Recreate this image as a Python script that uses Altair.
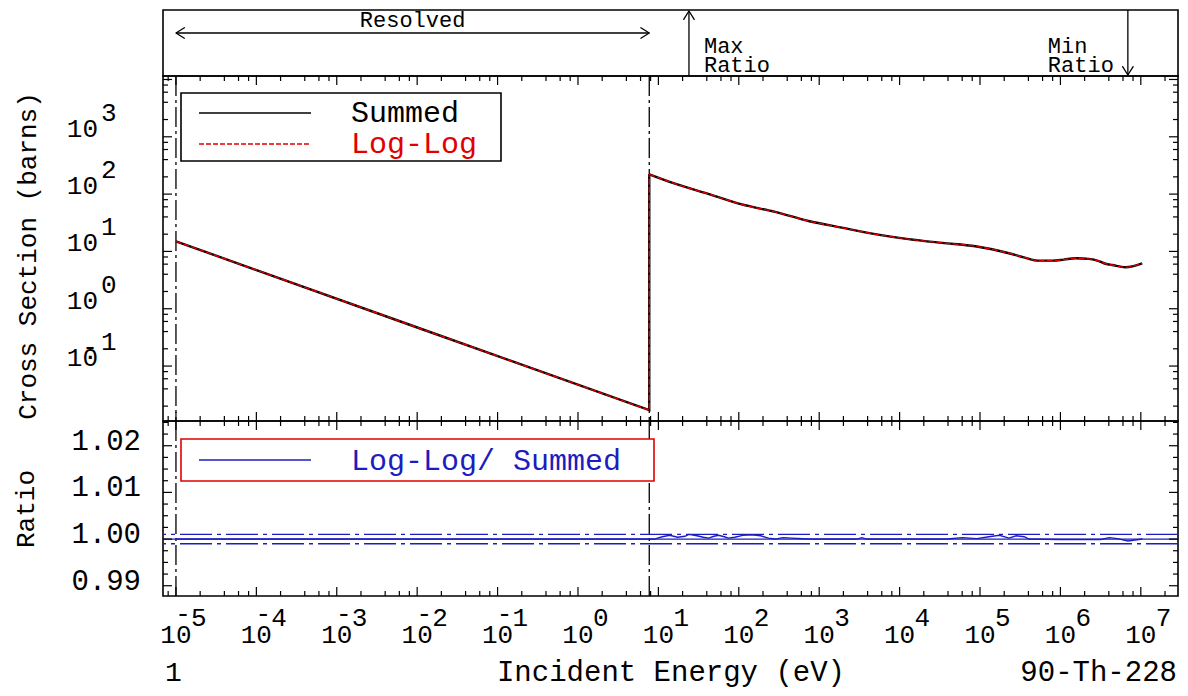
import altair as alt
import pandas as pd

FONT = "Liberation Mono"

# ---------------- data ----------------
# resolved region (1/v behaviour), ending with the jump at the boundary
res_energy = [1e-5, 0.0089, 7.7, 7.7]
res_xs = [15.0, 0.50, 0.017, 222]
# unresolved / fast region
fast_energy = [7.7, 16.1, 41.8, 109, 283, 736, 1910, 4970, 12900, 33700, 87500,
               141000, 228000, 350000, 538000, 800000, 1100000, 1540000, 2260000,
               3000000, 3640000, 4410000, 6460000, 10400000]
fast_xs = [222, 152, 101, 66, 49, 34, 26, 20, 16.4, 14.1, 12.3,
           10.9, 9.3, 7.9, 6.9, 6.9, 7.2, 7.6, 7.4, 6.8, 6.1, 5.8, 5.3, 6.2]

# ratio Log-Log / Summed
ratio_energy = [1e-5, 7.7, 8.9, 11.2, 13.8, 17.4, 21.4, 24, 30.2, 36.3, 42.2, 49.0,
                56.2, 66.1, 74.1, 89.1, 112, 145, 186, 234, 282, 355, 457, 741,
                1585, 2951, 3388, 3890, 15850, 38900, 60260, 91200, 128800,
                173800, 229100, 281800, 354800, 407400, 1000000, 3160000,
                4070000, 5130000, 6900000, 10500000]
ratio_values = [1.0, 1.0, 1.0, 1.0005, 1.0008, 1.0004, 1.0006, 1.0010, 1.0007, 1.0004,
                1.0002, 1.0006, 1.0008, 1.0005, 1.0002, 1.0004, 1.0008, 1.0009,
                1.0007, 1.0002, 1.0000, 1.0003, 1.0002, 1.0000, 1.0, 1.0, 1.0003,
                1.0, 1.0, 1.0, 1.0003, 1.0001, 1.0005, 1.0008, 1.0002, 1.0007,
                1.0005, 1.0000, 0.9999, 0.9999, 1.0003, 1.0001, 0.9996, 1.0]

guide_ratios = [1.001, 0.999]
unity_ratio = [1.0]
boundary_energy = [1e-5, 7.7]
resolved_lo, resolved_hi = 1e-5, 7.7
max_ratio_energy = 24
min_ratio_energy = 6.9e6

x_exponents = list(range(-5, 8))
y_exponents = [-1, 0, 1, 2, 3]
minor_mult = [2, 4, 6, 8]
ratio_major = [0.99, 1.00, 1.01, 1.02]
ratio_labels = ["0.99", "1.00", "1.01", "1.02"]
ratio_minor = [0.9925, 0.995, 0.9975, 1.0025, 1.005, 1.0075, 1.0125, 1.015,
               1.0175, 1.0225, 1.025]

X_DOMAIN = [6.9e-6, 2.9e7]
Y_DOMAIN = [0.011, 11500]
R_DOMAIN = [0.9878, 1.0253]

W, HT, HM, HR = 1015, 66, 345, 175
BLUE = "#1c1cc0"
RED = "#e00000"
TICKFS = 26
BIGFS = 30

xscale = alt.Scale(type="log", domain=X_DOMAIN, nice=False)
yscale = alt.Scale(type="log", domain=Y_DOMAIN, nice=False)
rscale = alt.Scale(domain=R_DOMAIN, nice=False, zero=False)


def X(f):
    return alt.X(f, type="quantitative", scale=xscale, axis=None)


def YL(f):
    return alt.Y(f, type="quantitative", scale=yscale, axis=None)


def YR(f):
    return alt.Y(f, type="quantitative", scale=rscale, axis=None)


one = pd.DataFrame({"a": [0]})

# tick value lists
x_major = [10.0 ** e for e in range(-6, 9)]
x_minor = [m * 10.0 ** e for e in range(-6, 8) for m in minor_mult]
x_major = [v for v in x_major if X_DOMAIN[0] <= v <= X_DOMAIN[1]]
x_minor = [v for v in x_minor if X_DOMAIN[0] <= v <= X_DOMAIN[1]]
y_major = [10.0 ** e for e in range(-2, 5)]
y_minor = [m * 10.0 ** e for e in range(-2, 5) for m in minor_mult]
y_major = [v for v in y_major if Y_DOMAIN[0] <= v <= Y_DOMAIN[1]]
y_minor = [v for v in y_minor if Y_DOMAIN[0] <= v <= Y_DOMAIN[1]]

MAJ, MIN = 9, 5


def x_ticks(h):
    out = []
    for vals, L in ((x_major, MAJ), (x_minor, MIN)):
        c = alt.Chart(pd.DataFrame({"E": vals})).mark_rule(color="black", strokeWidth=1.2)
        out.append(c.encode(x=X("E"), y=alt.value(h), y2=alt.value(h - L)))
        out.append(c.encode(x=X("E"), y=alt.value(0), y2=alt.value(L)))
    return out


def y_ticks(majors, minors, Yf):
    out = []
    for vals, L in ((majors, MAJ), (minors, MIN)):
        c = alt.Chart(pd.DataFrame({"v": vals})).mark_rule(color="black", strokeWidth=1.2)
        out.append(c.encode(y=Yf("v"), x=alt.value(0), x2=alt.value(L)))
        out.append(c.encode(y=Yf("v"), x=alt.value(W), x2=alt.value(W - L)))
    return out


def head(chart, shape, field, y):
    return chart.mark_point(shape=shape, size=110, filled=False, color="black",
                            strokeWidth=1.3, opacity=1, strokeJoin="round",
                            strokeCap="round").encode(x=X(field), y=alt.value(y))


# ---------------- top strip ----------------
rng = alt.Chart(pd.DataFrame({"lo": [resolved_lo], "hi": [resolved_hi]}))
top_layers = [
    rng.mark_rule(color="black", strokeWidth=1.3).encode(x=X("lo"), x2=alt.X2("hi"), y=alt.value(23)),
    head(rng, "M1.6,-1L0,0L1.6,1", "lo", 23),
    head(rng, "M-1.6,-1L0,0L-1.6,1", "hi", 23),
    rng.transform_calculate(mid="sqrt(datum.lo*datum.hi)").mark_text(
        text="Resolved", font=FONT, fontSize=22, baseline="alphabetic").encode(x=X("mid"), y=alt.value(17)),
]
mx = alt.Chart(pd.DataFrame({"E": [max_ratio_energy]}))
mn = alt.Chart(pd.DataFrame({"E": [min_ratio_energy]}))
top_layers += [
    mx.mark_rule(color="black", strokeWidth=1.3).encode(x=X("E"), y=alt.value(1), y2=alt.value(HT)),
    head(mx, "M-1,1.6L0,0L1,1.6", "E", 1),
    mx.mark_text(text="Max", font=FONT, fontSize=22, align="left", dx=15, baseline="alphabetic").encode(x=X("E"), y=alt.value(43)),
    mx.mark_text(text="Ratio", font=FONT, fontSize=22, align="left", dx=15, baseline="alphabetic").encode(x=X("E"), y=alt.value(62)),
    mn.mark_rule(color="black", strokeWidth=1.3).encode(x=X("E"), y=alt.value(0), y2=alt.value(HT - 1)),
    head(mn, "M-1,-1.6L0,0L1,-1.6", "E", HT - 1),
    mn.mark_text(text="Min", font=FONT, fontSize=22, align="left", dx=-80, baseline="alphabetic").encode(x=X("E"), y=alt.value(43)),
    mn.mark_text(text="Ratio", font=FONT, fontSize=22, align="left", dx=-80, baseline="alphabetic").encode(x=X("E"), y=alt.value(62)),
]
top = alt.layer(*top_layers).properties(width=W, height=HT)

# ---------------- cross-section panel ----------------
res_df = pd.DataFrame({"E": res_energy, "xs": res_xs, "idx": list(range(len(res_energy)))})
fast_df = pd.DataFrame({"E": fast_energy, "xs": fast_xs, "idx": list(range(len(fast_energy)))})
bnd = alt.Chart(pd.DataFrame({"E": boundary_energy}))
ylab = pd.DataFrame({"v": [10.0 ** e for e in y_exponents],
                     "exp": [str(abs(e)) for e in y_exponents],
                     "neg": [e < 0 for e in y_exponents]})
yl = alt.Chart(ylab)
oc = alt.Chart(one)


def curve_layers(df, interp):
    c = alt.Chart(df)
    return [
        c.mark_line(color="black", strokeWidth=2.4, clip=True, interpolate=interp).encode(
            x=X("E"), y=YL("xs"), order="idx:Q"),
        c.mark_line(color=RED, strokeWidth=1.4, strokeDash=[6, 2], clip=True, interpolate=interp).encode(
            x=X("E"), y=YL("xs"), order="idx:Q"),
    ]


mid_layers = [
    bnd.mark_rule(color="black", strokeWidth=1.3, strokeDash=[20, 4, 3, 4]).encode(x=X("E")),
]
mid_layers += curve_layers(res_df, "linear") + curve_layers(fast_df, "monotone")
mid_layers += [
    # legend
    oc.mark_rect(fill="white", stroke="black", strokeWidth=1.6).encode(
        x=alt.value(18), x2=alt.value(338), y=alt.value(17), y2=alt.value(85)),
    oc.mark_rule(color="black", strokeWidth=1.3).encode(x=alt.value(36), x2=alt.value(148), y=alt.value(37)),
    oc.mark_rule(color=RED, strokeWidth=1.3, strokeDash=[5, 2]).encode(x=alt.value(36), x2=alt.value(148), y=alt.value(68)),
    oc.mark_text(text="Summed", font=FONT, fontSize=BIGFS, align="left", baseline="alphabetic", color="black").encode(
        x=alt.value(188), y=alt.value(46)),
    oc.mark_text(text="Log-Log", font=FONT, fontSize=BIGFS, align="left", baseline="alphabetic", color=RED).encode(
        x=alt.value(188), y=alt.value(77)),
    # y labels 10^n
    yl.mark_text(text="10", font=FONT, fontSize=TICKFS, align="right", baseline="alphabetic").encode(
        x=alt.value(-65), y=YL("v")),
    yl.mark_text(font=FONT, fontSize=TICKFS, align="left", baseline="alphabetic", dy=-16).encode(
        x=alt.value(-62), y=YL("v"), text="exp:N"),
    yl.transform_filter("datum.neg").mark_text(text="-", font=FONT, fontSize=TICKFS, align="center",
                                                baseline="alphabetic", dy=-11).encode(x=alt.value(-73), y=YL("v")),
    oc.mark_text(text="Cross Section (barns)", font=FONT, fontSize=26, angle=270, align="center",
                 baseline="middle").encode(x=alt.value(-135), y=alt.value(180)),
]
mid_layers += x_ticks(HM) + y_ticks(y_major, y_minor, YL)
mid = alt.layer(*mid_layers).properties(width=W, height=HM)

# ---------------- ratio panel ----------------
rat = pd.DataFrame({"E": ratio_energy, "r": ratio_values})
xlab = pd.DataFrame({"E": [10.0 ** e for e in x_exponents],
                     "exp": [str(abs(e)) for e in x_exponents],
                     "neg": [e < 0 for e in x_exponents]})
xl = alt.Chart(xlab)
rl = alt.Chart(pd.DataFrame({"v": ratio_major, "lab": ratio_labels}))

rat_layers = [
    bnd.mark_rule(color="black", strokeWidth=1.3, strokeDash=[20, 4, 3, 4]).encode(x=X("E")),
    alt.Chart(pd.DataFrame({"r": guide_ratios})).mark_rule(color=BLUE, strokeWidth=1.3, strokeDash=[32, 5, 4, 5]).encode(y=YR("r")),
    alt.Chart(pd.DataFrame({"r": unity_ratio})).mark_rule(color=BLUE, strokeWidth=1.2).encode(y=YR("r")),
    alt.Chart(rat).mark_line(color=BLUE, strokeWidth=1.4, clip=True).encode(x=X("E"), y=YR("r")),
    # legend
    oc.mark_rect(fill="white", stroke=RED, strokeWidth=1.6).encode(
        x=alt.value(18), x2=alt.value(491), y=alt.value(18), y2=alt.value(60)),
    oc.mark_rule(color=BLUE, strokeWidth=1.3).encode(x=alt.value(36), x2=alt.value(148), y=alt.value(39)),
    oc.mark_text(text="Log-Log/ Summed", font=FONT, fontSize=BIGFS, align="left", baseline="alphabetic", color=BLUE).encode(
        x=alt.value(188), y=alt.value(49)),
    # y labels
    rl.mark_text(font=FONT, fontSize=29, align="right", baseline="alphabetic", dy=4).encode(
        x=alt.value(-22), y=YR("v"), text="lab:N"),
    oc.mark_text(text="Ratio", font=FONT, fontSize=26, angle=270, align="center",
                 baseline="middle").encode(x=alt.value(-137), y=alt.value(88)),
    # x labels 10^n
    xl.mark_text(text="10", font=FONT, fontSize=TICKFS, align="center", baseline="alphabetic").encode(
        x=X("E"), y=alt.value(HR + 47)),
    xl.mark_text(font=FONT, fontSize=TICKFS, align="left", baseline="alphabetic", dx=15).encode(
        x=X("E"), y=alt.value(HR + 30), text="exp:N"),
    xl.transform_filter("datum.neg").mark_text(text="-", font=FONT, fontSize=TICKFS, align="center",
                                                baseline="alphabetic", dx=7).encode(x=X("E"), y=alt.value(HR + 26)),
    # bottom row
    oc.mark_text(text="1", font=FONT, fontSize=28, align="left", baseline="alphabetic").encode(
        x=alt.value(2), y=alt.value(HR + 85)),
    oc.mark_text(text="Incident Energy (eV)", font=FONT, fontSize=29, align="center", baseline="alphabetic").encode(
        x=alt.value(508), y=alt.value(HR + 85)),
    oc.mark_text(text="90-Th-228", font=FONT, fontSize=29, align="right", baseline="alphabetic").encode(
        x=alt.value(W - 1), y=alt.value(HR + 85)),
]
rat_layers += x_ticks(HR) + y_ticks(ratio_major, ratio_minor, YR)
ratio = alt.layer(*rat_layers).properties(width=W, height=HR)

chart = alt.vconcat(top, mid, ratio, spacing=0, bounds="flush").properties(
    padding={"left": 4, "top": 0, "right": 0, "bottom": 2}
).configure_view(stroke="black", strokeWidth=1.6)

chart.save("out.html", embed_options={"renderer": "svg", "actions": False})
